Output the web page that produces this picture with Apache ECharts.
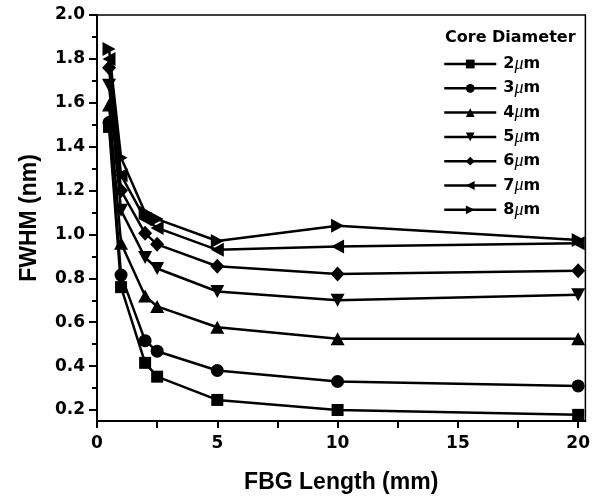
<!DOCTYPE html>
<html>
<head>
<meta charset="utf-8">
<script src="https://cdn.jsdelivr.net/npm/echarts@6/dist/echarts.min.js"></script>
<style>html,body{margin:0;padding:0;background:#fff}#c{width:593px;height:503px}</style>
</head>
<body>
<div id="c"></div>
<script>
const fbgLength = [0.5, 1, 2, 2.5, 5, 10, 20];
const d2um = [1.49, 0.76, 0.415, 0.352, 0.246, 0.200, 0.178];
const d3um = [1.51, 0.815, 0.516, 0.468, 0.380, 0.330, 0.310];
const d4um = [1.59, 0.96, 0.720, 0.672, 0.577, 0.525, 0.525];
const d5um = [1.68, 1.11, 0.895, 0.845, 0.740, 0.700, 0.725];
const d6um = [1.76, 1.20, 1.005, 0.955, 0.855, 0.820, 0.835];
const d7um = [1.80, 1.27, 1.070, 1.030, 0.930, 0.945, 0.960];
const d8um = [1.845, 1.35, 1.100, 1.070, 0.970, 1.040, 0.975];
const seriesNames = ['2μm', '3μm', '4μm', '5μm', '6μm', '7μm', '8μm'];
const seriesData = [d2um, d3um, d4um, d5um, d6um, d7um, d8um];
const xTicks = [0, 5, 10, 15, 20];
const xMinorTicks = [2.5, 7.5, 12.5, 17.5];
const yTicks = [0.2, 0.4, 0.6, 0.8, 1.0, 1.2, 1.4, 1.6, 1.8, 2.0];
const yMinorTicks = [0.3, 0.5, 0.7, 0.9, 1.1, 1.3, 1.5, 1.7, 1.9];

const symbols = [
  {symbol: 'rect', size: 12},
  {symbol: 'circle', size: 13},
  {symbol: 'path://M5,0 L10,9 L0,9 Z', size: [14, 13]},
  {symbol: 'path://M0,0 L10,0 L5,9 Z', size: [14, 13]},
  {symbol: 'diamond', size: [14, 15]},
  {symbol: 'path://M0,5 L9,0 L9,10 Z', size: [13, 14]},
  {symbol: 'path://M0,0 L9,5 L0,10 Z', size: [13, 14]}
];

const FONT = 'DejaVu Sans';
const chart = echarts.init(document.getElementById('c'));
const series = seriesNames.map((n, i) => ({
  name: n,
  type: 'line',
  data: fbgLength.map((x, j) => [x, seriesData[i][j]]),
  symbol: symbols[i].symbol,
  symbolSize: symbols[i].size,
  lineStyle: {color: '#000', width: 2.5},
  itemStyle: {color: '#000', borderWidth: 0},
  showAllSymbol: true,
  animation: false,
  z: 2 + i
}));

chart.setOption({
  animation: false,
  backgroundColor: '#fff',
  grid: {left: 97, top: 15, right: 5, bottom: 82, show: true, borderColor: '#000', borderWidth: 1.5, backgroundColor: 'transparent'},
  title: {
    text: 'Core Diameter', left: 440, top: 25,
    textStyle: {fontFamily: FONT, fontWeight: 'bold', fontSize: 16, color: '#000'}
  },
  legend: {
    orient: 'vertical', left: 438, top: 50,
    itemWidth: 52, itemHeight: 11, itemGap: 6.3,
    data: seriesNames,
    lineStyle: {width: 2.5, color: '#000'},
    formatter: function (name) { return '{n|' + name.charAt(0) + '}{mu|μ}{n|m}'; },
    textStyle: {
      color: '#000', fontFamily: FONT, fontWeight: 'bold', fontSize: 16, lineHeight: 13, padding: [0, 0, 0, 2],
      rich: {
        n: {fontFamily: FONT, fontWeight: 'bold', fontSize: 16, lineHeight: 13, color: '#000'},
        mu: {fontFamily: 'Liberation Serif', fontStyle: 'italic', fontWeight: 'normal', fontSize: 18, lineHeight: 13, color: '#000'}
      }
    }
  },
  xAxis: [{
    type: 'value', min: 0, max: 20.3,
    name: 'FBG Length (mm)', nameLocation: 'middle', nameGap: 50,
    nameTextStyle: {fontFamily: 'Liberation Sans', fontWeight: 'bold', fontSize: 23, color: '#000'},
    axisLine: {show: true, lineStyle: {color: '#000', width: 2}},
    axisTick: {show: true, customValues: xTicks.concat(xMinorTicks), length: 7, lineStyle: {color: '#000', width: 2}},
    axisLabel: {customValues: xTicks, margin: 14, fontFamily: FONT, fontWeight: 'bold', fontSize: 17, color: '#000'},
    splitLine: {show: false}
  }],
  yAxis: [{
    type: 'value', min: 0.15, max: 2.0,
    name: 'FWHM (nm)', nameLocation: 'middle', nameGap: 56,
    nameTextStyle: {fontFamily: 'Liberation Sans', fontWeight: 'bold', fontSize: 23, color: '#000'},
    axisLine: {show: true, lineStyle: {color: '#000', width: 2}},
    axisTick: {show: true, customValues: yTicks, length: 8, lineStyle: {color: '#000', width: 2}},
    axisLabel: {customValues: yTicks, margin: 12, fontFamily: FONT, fontWeight: 'bold', fontSize: 17, color: '#000',
      formatter: v => v.toFixed(1)},
    splitLine: {show: false}
  }, {
    type: 'value', min: 0.15, max: 2.0, position: 'left',
    axisLine: {show: false},
    axisTick: {show: true, customValues: yMinorTicks, length: 5, lineStyle: {color: '#000', width: 2}},
    axisLabel: {show: false},
    splitLine: {show: false}
  }],
  series: series
});
</script>
</body>
</html>
